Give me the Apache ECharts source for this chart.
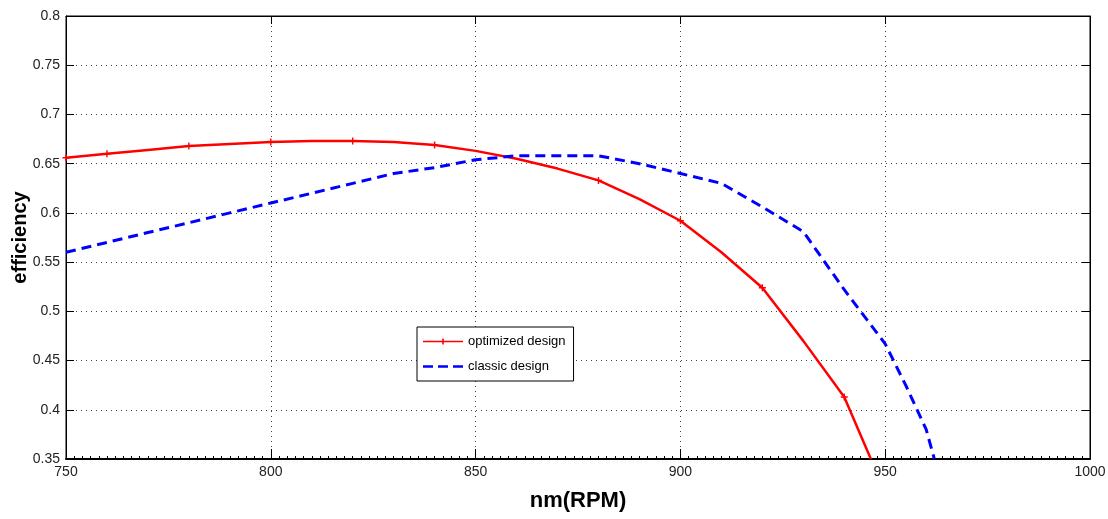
<!DOCTYPE html>
<html><head><meta charset="utf-8">
<script src="https://cdn.jsdelivr.net/npm/echarts@6/dist/echarts.min.js"></script>
<style>html,body{margin:0;padding:0;background:#fff}#c{width:1108px;height:519px}</style>
</head><body><div id="c"></div>
<script>
const xTicks = [750, 800, 850, 900, 950, 1000];
const yTicks = [0.35, 0.4, 0.45, 0.5, 0.55, 0.6, 0.65, 0.7, 0.75, 0.8];
const optRpm = [750, 760, 770, 780, 790, 800, 810, 820, 830, 840, 850, 860, 870, 880, 890, 900, 910, 920, 930, 940, 946.5];
const optEff = [0.656, 0.660, 0.664, 0.668, 0.670, 0.672, 0.673, 0.673, 0.672, 0.669, 0.663, 0.655, 0.645, 0.633, 0.614, 0.592, 0.560, 0.524, 0.470, 0.413, 0.35];
const optMarked = [750, 760, 780, 800, 820, 840, 880, 900, 920, 940];
const clsRpm = [750, 760, 770, 780, 790, 800, 810, 820, 830, 840, 850, 860, 870, 880, 890, 900, 910, 920, 930, 940, 950, 955, 960, 962];
const clsEff = [0.560, 0.570, 0.580, 0.590, 0.600, 0.610, 0.620, 0.630, 0.640, 0.646, 0.654, 0.658, 0.658, 0.658, 0.650, 0.640, 0.630, 0.606, 0.581, 0.522, 0.467, 0.425, 0.380, 0.350];

const PLUS = 'path://M4,0 L6,0 L6,4 L10,4 L10,6 L6,6 L6,10 L4,10 L4,6 L0,6 L0,4 L4,4 Z';
const chart = echarts.init(document.getElementById('c'));
const FONT = 'Liberation Sans Narrow, Liberation Sans, sans-serif';
const lblFont = {color: '#222', fontSize: 14, fontFamily: FONT};
chart.setOption({
  animation: false,
  grid: {left: 66, right: 18, top: 16, bottom: 60, show: true, borderColor: '#000', borderWidth: 1, outerBoundsMode: 'none', containLabel: false},
  legend: {
    left: 417, top: 327, orient: 'vertical', backgroundColor: '#fff',
    borderColor: '#000', borderWidth: 1, padding: [8, 8, 8, 6], itemGap: 12,
    itemWidth: 40, itemHeight: 10,
    textStyle: {fontSize: 13, fontFamily: FONT, color: '#000'},
    data: [
      {name: 'optimized design', icon: 'path://M0,4.2h40v1.6h-40z M19.2,2h1.6v6h-1.6z', itemStyle: {color: '#ff0000'}},
      {name: 'classic design', icon: 'path://M0,3.8h10v2.4h-10z M15,3.8h10v2.4h-10z M30,3.8h10v2.4h-10z', itemStyle: {color: '#0000ff'}}
    ]
  },
  xAxis: [{
    type: 'value', min: 750, max: 1000, interval: 50,
    name: 'nm(RPM)', nameLocation: 'middle', nameGap: 31,
    nameTextStyle: {fontSize: 22, fontWeight: 'bold', fontFamily: FONT, color: '#000'},
    axisLine: {show: true, onZero: false, lineStyle: {color: '#000', width: 2}},
    axisTick: {show: true, inside: true, length: 10, lineStyle: {color: '#000'}},
    minorTick: {show: true, splitNumber: 25, length: 3, lineStyle: {color: '#000'}},
    axisLabel: Object.assign({margin: 6, formatter: v => xTicks.includes(v) ? String(v) : ''}, lblFont),
    splitLine: {show: true, lineStyle: {type: [1, 4], color: '#444', width: 1}}
  }, {
    type: 'value', min: 750, max: 1000, interval: 50, position: 'top',
    axisLine: {show: true, lineStyle: {color: '#000'}},
    axisTick: {show: true, inside: true, length: 8, lineStyle: {color: '#000'}},
    axisLabel: {show: false}, splitLine: {show: false}
  }],
  yAxis: [{
    type: 'value', min: 0.35, max: 0.8, interval: 0.05,
    name: 'efficiency', nameLocation: 'middle', nameGap: 36, nameMoveOverlap: false,
    nameTextStyle: {fontSize: 20, fontWeight: 'bold', fontFamily: 'Liberation Sans', color: '#000'},
    axisLine: {show: true, lineStyle: {color: '#000'}},
    axisTick: {show: true, inside: true, length: 8, lineStyle: {color: '#000'}},
    axisLabel: Object.assign({margin: 6, formatter: v => String(+v.toFixed(2))}, lblFont),
    splitLine: {show: true, lineStyle: {type: [1, 4], color: '#444', width: 1}}
  }, {
    type: 'value', min: 0.35, max: 0.8, interval: 0.05, position: 'right',
    axisLine: {show: true, lineStyle: {color: '#000'}},
    axisTick: {show: true, inside: true, length: 8, lineStyle: {color: '#000'}},
    axisLabel: {show: false}, splitLine: {show: false}
  }],
  series: [{
    name: 'optimized design', type: 'line', clip: true,
    data: optRpm.map((x, i) => ({value: [x, optEff[i]], symbol: optMarked.includes(x) ? PLUS : 'none'})),
    symbol: PLUS, symbolSize: 7, showSymbol: true, showAllSymbol: true,
    itemStyle: {color: '#ff0000'},
    lineStyle: {color: '#ff0000', width: 2.5}
  }, {
    name: 'classic design', type: 'line', clip: true,
    data: clsRpm.map((x, i) => [x, clsEff[i]]),
    showSymbol: false, symbol: 'none',
    itemStyle: {color: '#0000ff'},
    lineStyle: {color: '#0000ff', width: 3, type: [10, 6]}
  }]
});
</script></body></html>
